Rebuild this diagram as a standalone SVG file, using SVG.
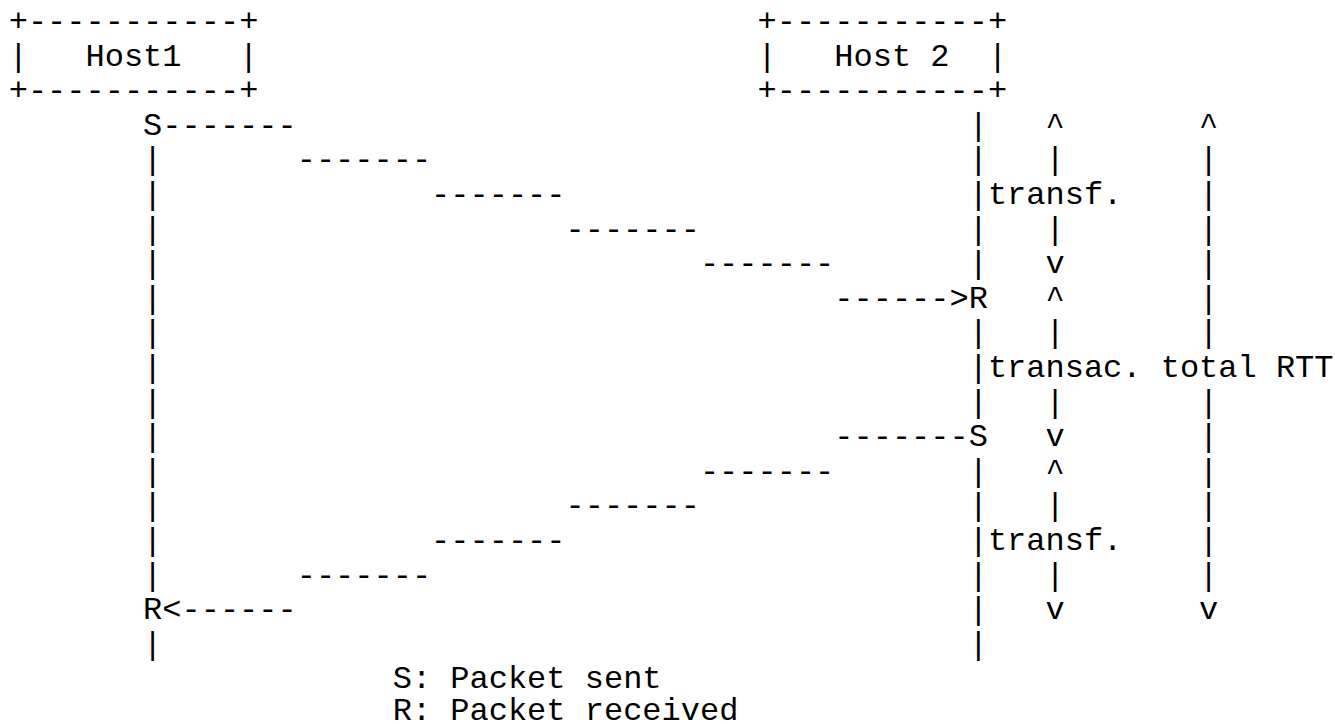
<svg xmlns="http://www.w3.org/2000/svg" width="1335" height="724" viewBox="0 0 1335 724">
<style>
text { font-family: "Liberation Mono", "DejaVu Sans Mono", monospace; font-size: 32px; fill: #000; white-space: pre; }
</style>
<rect width="1335" height="724" fill="#fff"/>
<g id="host1">
<text x="8.7" y="31">+-----------+</text>
<text x="8.7" y="65.6">|</text>
<text x="85.5" y="65.6">Host1</text>
<text x="239.1" y="65.6">|</text>
<text x="8.7" y="100.2">+-----------+</text>
</g>
<g id="host2">
<text x="757.5" y="31">+-----------+</text>
<text x="757.5" y="65.6">|</text>
<text x="834.3" y="65.6">Host 2</text>
<text x="987.9" y="65.6">|</text>
<text x="757.5" y="100.2">+-----------+</text>
</g>
<g id="host1-timeline">
<text x="143.1" y="134.8">S</text>
<text x="143.1" y="169.4">|</text>
<text x="143.1" y="204">|</text>
<text x="143.1" y="238.6">|</text>
<text x="143.1" y="273.2">|</text>
<text x="143.1" y="307.8">|</text>
<text x="143.1" y="342.4">|</text>
<text x="143.1" y="377">|</text>
<text x="143.1" y="411.6">|</text>
<text x="143.1" y="446.2">|</text>
<text x="143.1" y="480.8">|</text>
<text x="143.1" y="515.4">|</text>
<text x="143.1" y="550">|</text>
<text x="143.1" y="584.6">|</text>
<text x="143.1" y="619.2">R</text>
<text x="143.1" y="653.8">|</text>
</g>
<g id="host2-timeline">
<text x="968.7" y="134.8">|</text>
<text x="968.7" y="169.4">|</text>
<text x="968.7" y="204">|</text>
<text x="968.7" y="238.6">|</text>
<text x="968.7" y="273.2">|</text>
<text x="968.7" y="307.8">R</text>
<text x="968.7" y="342.4">|</text>
<text x="968.7" y="377">|</text>
<text x="968.7" y="411.6">|</text>
<text x="968.7" y="446.2">S</text>
<text x="968.7" y="480.8">|</text>
<text x="968.7" y="515.4">|</text>
<text x="968.7" y="550">|</text>
<text x="968.7" y="584.6">|</text>
<text x="968.7" y="619.2">|</text>
<text x="968.7" y="653.8">|</text>
</g>
<g id="connectors">
<text x="162.3" y="134.8">-------</text>
<text x="296.7" y="169.4">-------</text>
<text x="431.1" y="204">-------</text>
<text x="565.5" y="238.6">-------</text>
<text x="699.9" y="273.2">-------</text>
<text x="834.3" y="307.8">------&gt;</text>
<text x="834.3" y="446.2">-------</text>
<text x="699.9" y="480.8">-------</text>
<text x="565.5" y="515.4">-------</text>
<text x="431.1" y="550">-------</text>
<text x="296.7" y="584.6">-------</text>
<text x="162.3" y="619.2">&lt;------</text>
</g>
<g id="interval-marks">
<text x="1045.5" y="134.8">^</text>
<text x="1045.5" y="169.4">|</text>
<text x="987.9" y="204">transf.</text>
<text x="1045.5" y="238.6">|</text>
<text x="1045.5" y="273.2">v</text>
<text x="1045.5" y="307.8">^</text>
<text x="1045.5" y="342.4">|</text>
<text x="987.9" y="377">transac.</text>
<text x="1045.5" y="411.6">|</text>
<text x="1045.5" y="446.2">v</text>
<text x="1045.5" y="480.8">^</text>
<text x="1045.5" y="515.4">|</text>
<text x="987.9" y="550">transf.</text>
<text x="1045.5" y="584.6">|</text>
<text x="1045.5" y="619.2">v</text>
</g>
<g id="rtt-mark">
<text x="1199.1" y="134.8">^</text>
<text x="1199.1" y="169.4">|</text>
<text x="1199.1" y="204">|</text>
<text x="1199.1" y="238.6">|</text>
<text x="1199.1" y="273.2">|</text>
<text x="1199.1" y="307.8">|</text>
<text x="1199.1" y="342.4">|</text>
<text x="1160.7" y="377">total RTT</text>
<text x="1199.1" y="411.6">|</text>
<text x="1199.1" y="446.2">|</text>
<text x="1199.1" y="480.8">|</text>
<text x="1199.1" y="515.4">|</text>
<text x="1199.1" y="550">|</text>
<text x="1199.1" y="584.6">|</text>
<text x="1199.1" y="619.2">v</text>
</g>
<g id="legend">
<text x="392.7" y="688.4">S: Packet sent</text>
<text x="392.7" y="720">R: Packet received</text>
</g>
</svg>
